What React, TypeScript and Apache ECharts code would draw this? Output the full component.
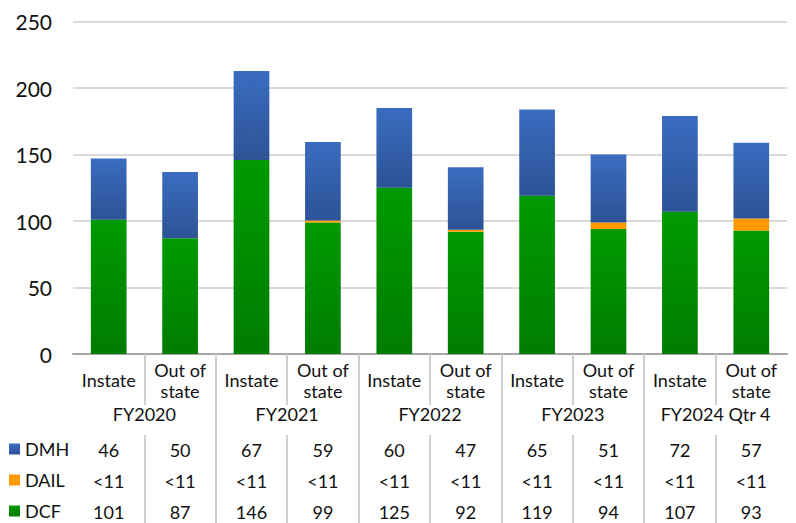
import React, { useEffect, useRef } from "react";
import * as echarts from "echarts";

const categories = [
  "Instate", "Out of\nstate", "Instate", "Out of\nstate", "Instate",
  "Out of\nstate", "Instate", "Out of\nstate", "Instate", "Out of\nstate",
];
const groups = ["FY2020", "FY2021", "FY2022", "FY2023", "FY2024 Qtr 4"];
const dmhValues = [46, 50, 67, 59, 60, 47, 65, 51, 72, 57];
const dailValues = [0, 0, 0, 1.5, 0, 1.5, 0, 5, 0, 9];
const dailLabels = ["<11", "<11", "<11", "<11", "<11", "<11", "<11", "<11", "<11", "<11"];
const dcfValues = [101, 87, 146, 99, 125, 92, 119, 94, 107, 93];
const yTicks = [0, 50, 100, 150, 200, 250];

const FONT = "Lato, 'Open Sans', sans-serif";
const TXT = "#111";
const GRID_LINE = "#d9d9d9";
const SEP = "#cfcfcf";

const W = 796;
const PLOT_LEFT = 73;
const PLOT_RIGHT = 9;
const PLOT_TOP = 21.7;
const PLOT_BOTTOM = 169;
const CAT_W = (W - PLOT_LEFT - PLOT_RIGHT) / categories.length;

function grad(top: string, bottom: string) {
  return new echarts.graphic.LinearGradient(0, 0, 0, 1, [
    { offset: 0, color: top },
    { offset: 1, color: bottom },
  ]);
}

export default function App() {
  const ref = useRef<HTMLDivElement>(null);
  useEffect(() => {
    if (!ref.current) return;
    const chart = echarts.init(ref.current, null, { renderer: "svg" });
    const rowAxis = (offset: number, labels: (string | number)[]) => ({
      type: "category",
      data: categories,
      position: "bottom",
      gridIndex: 0,
      offset,
      axisLine: { show: false },
      axisTick: { show: false },
      splitLine: { show: false },
      axisLabel: {
        interval: 0,
        margin: 0,
        verticalAlign: "middle",
        fontFamily: FONT,
        fontSize: 18,
        color: TXT,
        formatter: (_v: string, i: number) => String(labels[i]),
      },
    });
    // helper axes drawing only ticks: the table's vertical separators
    const sepAxis = (gridIndex: number, max: number, offset: number, length: number) => ({
      type: "value",
      gridIndex,
      min: 0,
      max,
      interval: 2,
      position: "bottom",
      offset,
      axisLine: { show: false },
      splitLine: { show: false },
      axisLabel: { show: false },
      axisTick: { show: true, length, lineStyle: { color: SEP, width: 2 } },
    });
    const hiddenY = (gridIndex: number) => ({
      type: "value",
      gridIndex,
      min: 0,
      max: 1,
      show: false,
    });
    chart.setOption({
      animation: false,
      grid: [
        { left: PLOT_LEFT, right: PLOT_RIGHT, top: PLOT_TOP, bottom: PLOT_BOTTOM },
        { left: PLOT_LEFT + CAT_W, right: PLOT_RIGHT + CAT_W, top: PLOT_TOP, bottom: PLOT_BOTTOM },
        { left: PLOT_LEFT + 2 * CAT_W, right: PLOT_RIGHT + 2 * CAT_W, top: PLOT_TOP, bottom: PLOT_BOTTOM },
      ],
      legend: {
        data: ["DMH", "DAIL", "DCF"],
        orient: "vertical",
        left: 9,
        top: 439,
        itemWidth: 11,
        itemHeight: 11,
        itemGap: 11,
        icon: "rect",
        padding: 0,
        textStyle: { fontFamily: FONT, fontSize: 18, color: TXT, lineHeight: 20 },
      },
      xAxis: [
        {
          type: "category",
          gridIndex: 0,
          data: categories,
          position: "bottom",
          axisLine: { show: true, lineStyle: { color: "#a6a6a6", width: 2 } },
          axisTick: { show: false },
          axisLabel: {
            interval: 0,
            margin: 26,
            verticalAlign: "middle",
            lineHeight: 21,
            fontFamily: FONT,
            fontSize: 18,
            color: TXT,
          },
        },
        {
          type: "category",
          gridIndex: 0,
          data: groups,
          position: "bottom",
          offset: 0,
          axisLine: { show: false },
          axisTick: { show: false },
          axisLabel: {
            interval: 0,
            margin: 60,
            verticalAlign: "middle",
            fontFamily: FONT,
            fontSize: 18,
            color: TXT,
          },
        },
        rowAxis(96, dmhValues),
        rowAxis(127, dailLabels),
        rowAxis(158, dcfValues),
        sepAxis(1, 8, 0, 51),
        sepAxis(1, 8, 81, 90),
        sepAxis(2, 6, 0, 171),
      ],
      yAxis: [
        {
          type: "value",
          gridIndex: 0,
          min: yTicks[0],
          max: yTicks[yTicks.length - 1],
          interval: 50,
          axisLine: { show: false },
          axisTick: { show: false },
          splitLine: { lineStyle: { color: GRID_LINE, width: 2 } },
          axisLabel: { margin: 21, fontFamily: FONT, fontSize: 21, color: TXT },
        },
        hiddenY(1),
        hiddenY(2),
      ],
      series: [
        {
          name: "DCF",
          type: "bar",
          stack: "s",
          barWidth: "50%",
          data: dcfValues,
          itemStyle: { color: grad("#009a00", "#007c00") },
        },
        {
          name: "DAIL",
          type: "bar",
          stack: "s",
          barWidth: "50%",
          data: dailValues,
          itemStyle: { color: "#ff9900" },
        },
        {
          name: "DMH",
          type: "bar",
          stack: "s",
          barWidth: "50%",
          data: dmhValues,
          itemStyle: { color: grad("#3a6cc0", "#2d5396") },
        },
      ],
    });
    return () => chart.dispose();
  }, []);
  return <div ref={ref} style={{ width: 796, height: 523, position: "absolute", left: 0, top: 0 }} />;
}
